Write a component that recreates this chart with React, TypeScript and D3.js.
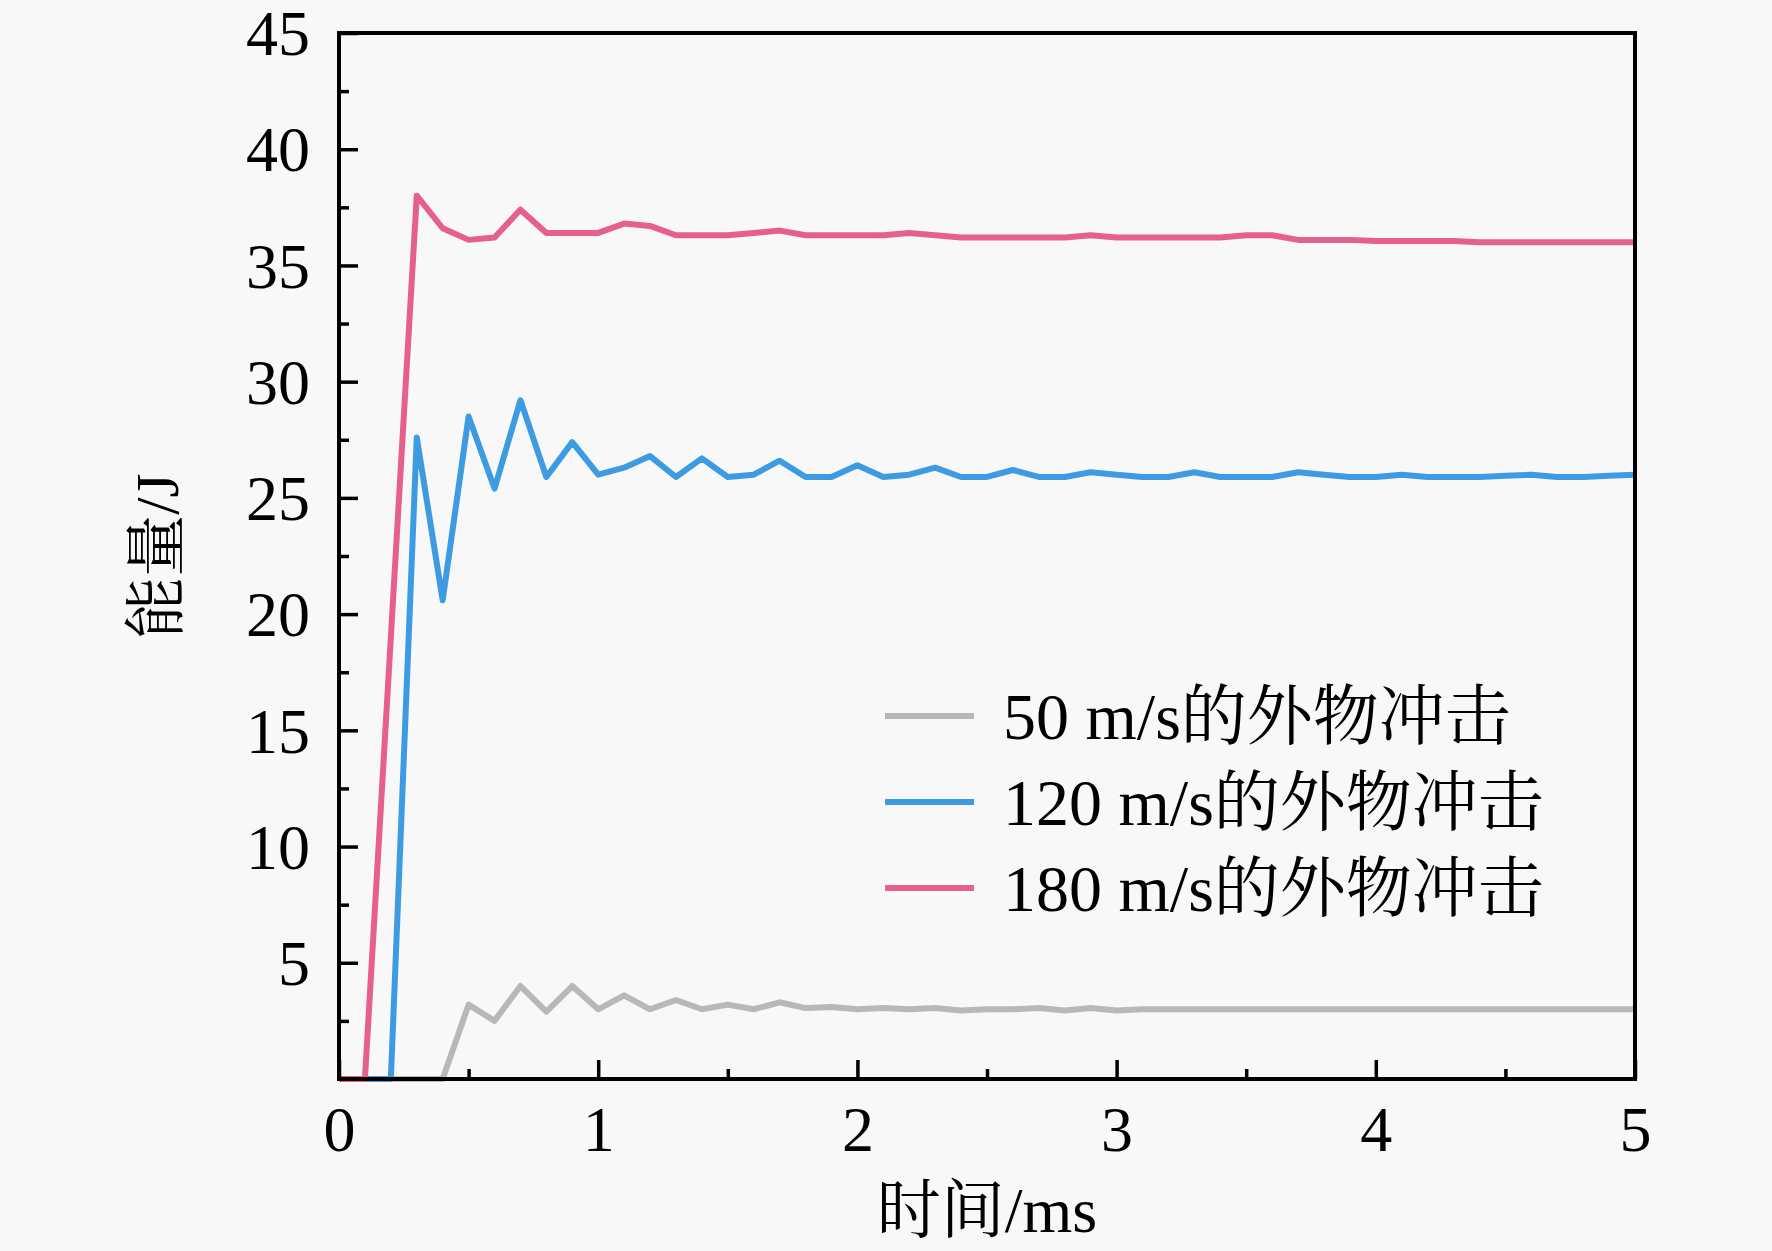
import { useEffect, useRef } from "react";
import * as d3 from "d3";

// time axis (ms), sampled every 0.1 ms
const times = [
  0, 0.1, 0.2, 0.3, 0.4, 0.5, 0.6, 0.7, 0.8, 0.9,
  1.0, 1.1, 1.2, 1.3, 1.4, 1.5, 1.6, 1.7, 1.8, 1.9,
  2.0, 2.1, 2.2, 2.3, 2.4, 2.5, 2.6, 2.7, 2.8, 2.9,
  3.0, 3.1, 3.2, 3.3, 3.4, 3.5, 3.6, 3.7, 3.8, 3.9,
  4.0, 4.1, 4.2, 4.3, 4.4, 4.5, 4.6, 4.7, 4.8, 4.9, 5.0
];

const energy50 = [
  0, 0, 0, 0, 0, 3.2, 2.5, 4.0, 2.9, 4.0,
  3.0, 3.6, 3.0, 3.4, 3.0, 3.2, 3.0, 3.3, 3.05, 3.1,
  3.0, 3.05, 3.0, 3.05, 2.95, 3.0, 3.0, 3.05, 2.95, 3.05,
  2.95, 3.0, 3.0, 3.0, 3.0, 3.0, 3.0, 3.0, 3.0, 3.0,
  3.0, 3.0, 3.0, 3.0, 3.0, 3.0, 3.0, 3.0, 3.0, 3.0, 3.0
];

const energy120 = [
  0, 0, 0, 27.6, 20.6, 28.5, 25.4, 29.2, 25.9, 27.4,
  26.0, 26.3, 26.8, 25.9, 26.7, 25.9, 26.0, 26.6, 25.9, 25.9,
  26.4, 25.9, 26.0, 26.3, 25.9, 25.9, 26.2, 25.9, 25.9, 26.1,
  26.0, 25.9, 25.9, 26.1, 25.9, 25.9, 25.9, 26.1, 26.0, 25.9,
  25.9, 26.0, 25.9, 25.9, 25.9, 25.95, 26.0, 25.9, 25.9, 25.95, 26.0
];

const energy180 = [
  0, 0, 19.0, 38.0, 36.6, 36.1, 36.2, 37.4, 36.4, 36.4,
  36.4, 36.8, 36.7, 36.3, 36.3, 36.3, 36.4, 36.5, 36.3, 36.3,
  36.3, 36.3, 36.4, 36.3, 36.2, 36.2, 36.2, 36.2, 36.2, 36.3,
  36.2, 36.2, 36.2, 36.2, 36.2, 36.3, 36.3, 36.1, 36.1, 36.1,
  36.05, 36.05, 36.05, 36.05, 36.0, 36.0, 36.0, 36.0, 36.0, 36.0, 36.0
];

const seriesNames = ["50 m/s的外物冲击", "120 m/s的外物冲击", "180 m/s的外物冲击"];
const seriesColors = ["#b8b8b8", "#3d9be2", "#e6608c"];
const seriesValues = [energy50, energy120, energy180];

const xMajorTicks = [0, 1, 2, 3, 4, 5];
const xMinorTicks = [0.5, 1.5, 2.5, 3.5, 4.5];
const yMajorTicks = [5, 10, 15, 20, 25, 30, 35, 40, 45];
const yMinorTicks = [2.5, 7.5, 12.5, 17.5, 22.5, 27.5, 32.5, 37.5, 42.5];

const W = 1772;
const H = 1251;
const FONT = '"Liberation Serif", "Times New Roman", "Noto Serif CJK SC", "Noto Sans CJK SC", serif';

export default function App() {
  const ref = useRef<SVGSVGElement | null>(null);

  useEffect(() => {
    if (!ref.current) return;
    const svg = d3.select(ref.current);
    svg.selectAll("*").remove();

    const left = 339, right = 1635, top = 33, bottom = 1079;
    const x = d3.scaleLinear().domain([0, 5]).range([left, right]);
    const y = d3.scaleLinear().domain([0, 45]).range([bottom, top]);

    svg.append("rect").attr("width", W).attr("height", H).attr("fill", "#f8f8f8");

    // series lines
    const line = d3
      .line<number>()
      .x((_, i) => x(times[i]))
      .y((v) => y(v));

    seriesValues.forEach((vals, k) => {
      svg
        .append("path")
        .datum(vals)
        .attr("d", line)
        .attr("fill", "none")
        .attr("stroke", seriesColors[k])
        .attr("stroke-width", 6)
        .attr("stroke-linejoin", "round");
    });

    // axes with inward ticks
    const axisStyle = (g: any) => {
      g.select(".domain").remove();
      g.selectAll(".tick line").attr("stroke", "#000").attr("stroke-width", 3.5);
      g.selectAll("text").attr("font-family", FONT).attr("font-size", 64).attr("fill", "#000");
    };

    svg
      .append("g")
      .attr("transform", `translate(${left},0)`)
      .call(d3.axisLeft(y).tickValues(yMinorTicks).tickSize(-10).tickFormat(() => ""))
      .call(axisStyle);
    const yg = svg
      .append("g")
      .attr("transform", `translate(${left},0)`)
      .call(d3.axisLeft(y).tickValues(yMajorTicks).tickSize(-19).tickPadding(29).tickFormat(d3.format("d")))
      .call(axisStyle);
    yg.selectAll("text").attr("dy", "0.34em");

    svg
      .append("g")
      .attr("transform", `translate(0,${bottom})`)
      .call(d3.axisBottom(x).tickValues(xMinorTicks).tickSize(-10).tickFormat(() => ""))
      .call(axisStyle);
    const xg = svg
      .append("g")
      .attr("transform", `translate(0,${bottom})`)
      .call(d3.axisBottom(x).tickValues(xMajorTicks).tickSize(-19).tickPadding(27).tickFormat(d3.format("d")))
      .call(axisStyle);
    xg.selectAll("text").attr("dy", "0.71em");

    // frame
    svg
      .append("rect")
      .attr("x", left)
      .attr("y", top)
      .attr("width", right - left)
      .attr("height", bottom - top)
      .attr("fill", "none")
      .attr("stroke", "#000")
      .attr("stroke-width", 4);

    // axis titles
    svg
      .append("text")
      .attr("x", (left + right) / 2)
      .attr("y", 1232)
      .attr("text-anchor", "middle")
      .attr("font-family", FONT)
      .attr("font-size", 64)
      .text("时间/ms");
    svg
      .append("text")
      .attr("transform", `translate(178,${(top + bottom) / 2}) rotate(-90)`)
      .attr("text-anchor", "middle")
      .attr("font-family", FONT)
      .attr("font-size", 62)
      .text("能量/J");

    // legend
    const legend = svg.append("g");
    seriesNames.forEach((name, k) => {
      const ly = 716 + k * 86;
      legend
        .append("line")
        .attr("x1", 885)
        .attr("x2", 974)
        .attr("y1", ly)
        .attr("y2", ly)
        .attr("stroke", seriesColors[k])
        .attr("stroke-width", 6);
      legend
        .append("text")
        .attr("x", 1003)
        .attr("y", ly)
        .attr("dy", "0.35em")
        .attr("font-family", FONT)
        .attr("font-size", 66)
        .text(name);
    });
  }, []);

  return (
    <svg
      ref={ref}
      width={W}
      height={H}
      style={{ position: "absolute", left: 0, top: 0, display: "block" }}
    />
  );
}
